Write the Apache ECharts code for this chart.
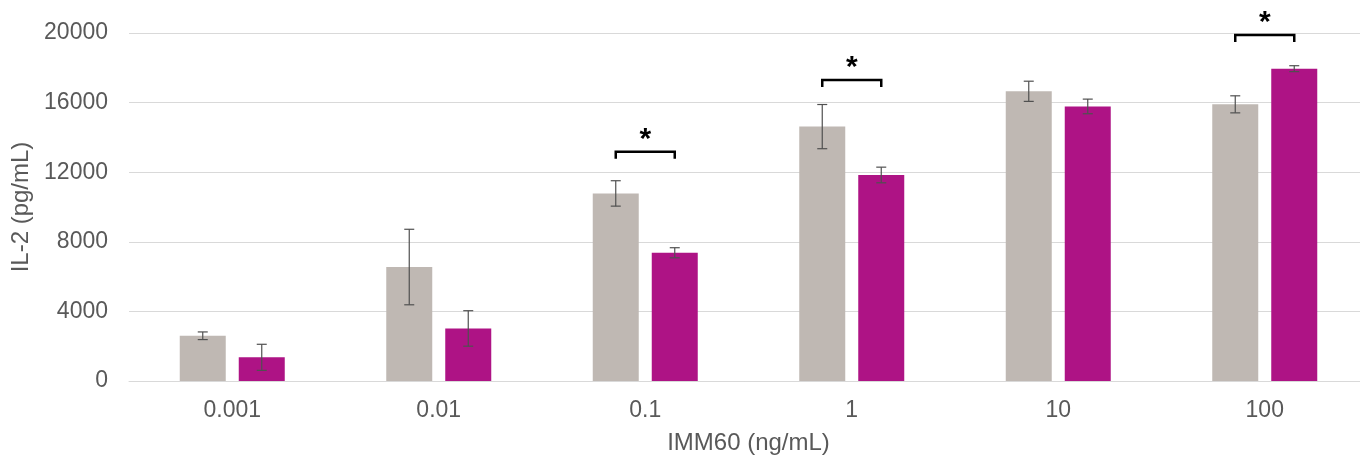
<!DOCTYPE html>
<html>
<head>
<meta charset="utf-8">
<script src="https://cdn.jsdelivr.net/npm/echarts@6/dist/echarts.min.js"></script>
<style>
    html, body { margin: 0; padding: 0; background: #fff; }
    #main { width: 1360px; height: 455px; }
</style>
</head>
<body>
<div id="main"></div>
<script>
// data
var doses = ['0.001', '0.01', '0.1', '1', '10', '100'];
var greyMean = [2600, 6550, 10780, 14620, 16650, 15900];
var greyErr = [220, 2170, 730, 1270, 580, 490];
var pinkMean = [1360, 3020, 7370, 11840, 15780, 17950];
var pinkErr = [750, 1020, 290, 450, 420, 170];
// significance brackets: category index, bracket height, depth of end ticks
var sigIdx = [2, 3, 5];
var sigTop = [13180, 17300, 19880];
var sigDrop = 400;
var yTicks = [0, 4000, 8000, 12000, 16000, 20000];

var BAR_W = 46;
var BAR_GAP = 13;
var HALF = (BAR_W + BAR_GAP) / 2;
var TEXT = '#595959';
var FONT = '"Liberation Sans", Arial, sans-serif';

function errorData(mean, err) {
    return mean.map(function (m, i) { return [i, m - err[i], m + err[i]]; });
}

function errorRender(offset) {
    return function (params, api) {
        var x = api.coord([api.value(0), 0])[0] + offset;
        var lo = api.coord([api.value(0), api.value(1)])[1];
        var hi = api.coord([api.value(0), api.value(2)])[1];
        var cap = 5;
        var st = { stroke: '#505050', lineWidth: 1.2 };
        return {
            type: 'group',
            children: [
                { type: 'line', shape: { x1: x, y1: lo, x2: x, y2: hi }, style: st },
                { type: 'line', shape: { x1: x - cap, y1: hi, x2: x + cap, y2: hi }, style: st },
                { type: 'line', shape: { x1: x - cap, y1: lo, x2: x + cap, y2: lo }, style: st }
            ]
        };
    };
}

function bracketRender(params, api) {
    var cx = api.coord([api.value(0), 0])[0];
    var top = api.coord([api.value(0), api.value(1)])[1];
    var bot = api.coord([api.value(0), api.value(1) - sigDrop])[1];
    var x1 = cx - HALF, x2 = cx + HALF;
    return {
        type: 'group',
        children: [
            {
                type: 'polyline',
                shape: { points: [[x1, bot], [x1, top], [x2, top], [x2, bot]] },
                style: { stroke: '#000', lineWidth: 2.5, fill: null }
            },
            {
                type: 'text',
                style: {
                    x: cx, y: top + 3, text: '*',
                    font: 'bold 30px ' + FONT, fill: '#000',
                    align: 'center', verticalAlign: 'bottom'
                }
            }
        ]
    };
}

var chart = echarts.init(document.getElementById('main'));
chart.setOption({
    animation: false,
    grid: { left: 129, right: -8, top: 33, bottom: 74, outerBoundsMode: 'none', containLabel: false },
    xAxis: {
        type: 'category',
        data: doses,
        name: 'IMM60 (ng/mL)',
        nameLocation: 'middle',
        nameGap: 50,
        nameTextStyle: { color: TEXT, fontSize: 24, fontFamily: FONT },
        axisLine: { lineStyle: { color: '#d9d9d9', width: 1 } },
        axisTick: { show: false },
        axisLabel: { color: TEXT, fontSize: 23, fontFamily: FONT, margin: 18 }
    },
    yAxis: {
        type: 'value',
        min: yTicks[0],
        max: yTicks[yTicks.length - 1],
        interval: yTicks[1] - yTicks[0],
        name: 'IL-2 (pg/mL)',
        nameLocation: 'middle',
        nameGap: 94,
        nameTextStyle: { color: TEXT, fontSize: 24, fontFamily: FONT },
        axisLine: { show: false },
        axisTick: { show: false },
        axisLabel: {
            color: TEXT, fontSize: 23, fontFamily: FONT, margin: 21,
            formatter: function (v) { return String(v); }
        },
        splitLine: { lineStyle: { color: '#d9d9d9', width: 1 } }
    },
    series: [
        {
            type: 'bar',
            data: greyMean,
            barWidth: BAR_W,
            barGap: (BAR_GAP / BAR_W * 100) + '%',
            itemStyle: { color: '#bfb8b3' }
        },
        {
            type: 'bar',
            data: pinkMean,
            barWidth: BAR_W,
            itemStyle: { color: '#ae1385' }
        },
        {
            type: 'custom',
            renderItem: errorRender(-HALF),
            data: errorData(greyMean, greyErr),
            z: 5
        },
        {
            type: 'custom',
            renderItem: errorRender(HALF),
            data: errorData(pinkMean, pinkErr),
            z: 5
        },
        {
            type: 'custom',
            renderItem: bracketRender,
            data: sigIdx.map(function (c, i) { return [c, sigTop[i]]; }),
            z: 6
        }
    ]
});
</script>
</body>
</html>
